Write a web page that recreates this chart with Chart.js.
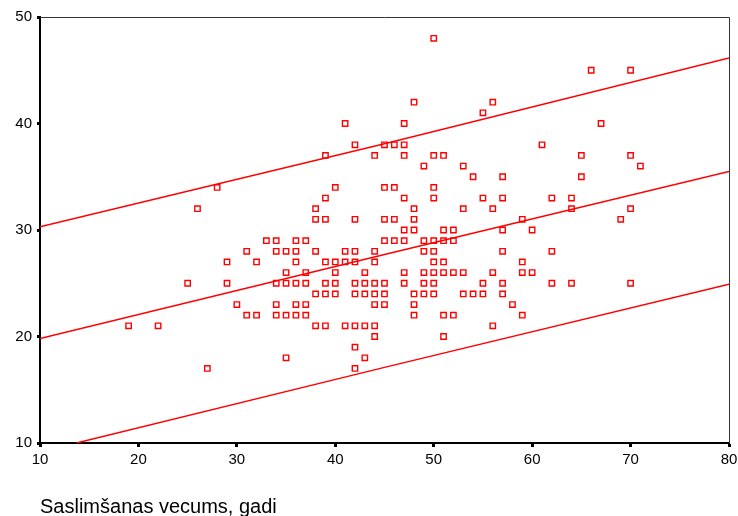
<!DOCTYPE html>
<html lang="lv">
<head>
    <meta charset="UTF-8">
    <title>Saslimšanas vecums</title>
    <script src="https://cdn.jsdelivr.net/npm/chart.js@4.4.1/dist/chart.umd.min.js"></script>
    <style>
        * { margin: 0; padding: 0; }
        body { background: #fff; }
        #wrap { width: 738px; height: 516px; }
    </style>
</head>
<body>
    <div id="wrap"><canvas id="chart" width="738" height="516"></canvas></div>

    <script>
        // ages (x) and the values seen in each column
        const ageCols = [19, 22, 25, 26, 27, 28, 29, 30, 31, 32, 33, 34, 35, 36, 37, 38, 39, 40,
                         41, 42, 43, 44, 45, 46, 47, 48, 49, 50, 51, 52, 53, 54, 55, 56, 57, 58,
                         59, 60, 61, 62, 64, 65, 66, 67, 69, 70, 71];
        const valsByCol = [
            [21], [21], [25], [32], [17], [34], [27, 25], [23], [28, 22], [27, 22], [29],
            [29, 28, 25, 23, 22],
            [28, 26, 25, 22, 18],
            [29, 28, 27, 25, 23, 22],
            [29, 26, 25, 23, 22],
            [32, 31, 28, 24, 21],
            [37, 33, 31, 27, 25, 24, 21],
            [34, 27, 26, 25, 24],
            [40, 28, 27, 21],
            [38, 31, 28, 27, 25, 24, 21, 19, 17],
            [26, 25, 24, 21, 18],
            [37, 28, 27, 25, 24, 23, 21, 20],
            [38, 34, 31, 29, 25, 24, 23],
            [38, 34, 31, 29],
            [40, 38, 37, 33, 30, 29, 26, 25],
            [42, 32, 31, 30, 24, 23, 22],
            [36, 29, 28, 26, 25, 24],
            [48, 37, 34, 33, 29, 28, 27, 26, 25, 24],
            [37, 30, 29, 27, 26, 22, 20],
            [30, 29, 26, 22],
            [36, 32, 26, 24],
            [35, 24],
            [41, 33, 25, 24],
            [42, 32, 26, 21],
            [35, 33, 30, 28, 25, 24],
            [23],
            [31, 27, 26, 22],
            [30, 26],
            [38],
            [33, 28, 25],
            [33, 32, 25],
            [37, 35],
            [45],
            [40],
            [31],
            [45, 37, 32, 25],
            [36]
        ];

        // fitted line and bands
        const lineX = [10, 45, 80];
        const fitY = [19.8, 27.7, 35.5];
        const upperY = [30.3, 38.1, 46.15];
        const lowerX = [13.7, 45, 80];
        const lowerY = [10, 17.1, 24.9];

        const xTicks = [10, 20, 30, 40, 50, 60, 70, 80];
        const yTicks = [10, 20, 30, 40, 50];
        const xTitle = 'Saslimšanas vecums, gadi';

        const points = [];
        ageCols.forEach((a, i) => valsByCol[i].forEach(v => points.push({ x: a, y: v })));

        const toXY = (xs, ys) => xs.map((x, i) => ({ x: x, y: ys[i] }));

        const RED = '#ff0000';
        const FONT = 'Liberation Sans, Arial, sans-serif';

        function lineSet(data) {
            return {
                type: 'line',
                data: data,
                borderColor: RED,
                borderWidth: 1.5,
                pointRadius: 0,
                fill: false,
                tension: 0
            };
        }

        // thin frame on top and right side
        const framePlugin = {
            id: 'frame',
            afterDraw(chart) {
                const { ctx, chartArea: a } = chart;
                ctx.save();
                ctx.strokeStyle = '#333';
                ctx.lineWidth = 1;
                ctx.beginPath();
                ctx.moveTo(a.left, a.top + 0.5);
                ctx.lineTo(a.right + 0.5, a.top + 0.5);
                ctx.lineTo(a.right + 0.5, a.bottom);
                ctx.stroke();
                ctx.restore();
            }
        };

        new Chart(document.getElementById('chart'), {
            type: 'scatter',
            data: {
                datasets: [
                    {
                        data: points,
                        pointStyle: 'rect',
                        pointRadius: 3.8,
                        pointBorderWidth: 1.4,
                        pointBorderColor: RED,
                        pointBackgroundColor: 'rgba(255,255,255,0)',
                        borderColor: RED,
                        showLine: false
                    },
                    lineSet(toXY(lineX, fitY)),
                    lineSet(toXY(lineX, upperY)),
                    lineSet(toXY(lowerX, lowerY))
                ]
            },
            options: {
                responsive: false,
                animation: false,
                layout: { padding: { top: 17, right: 9, left: 0, bottom: 0 } },
                plugins: {
                    legend: { display: false },
                    tooltip: { enabled: false }
                },
                scales: {
                    x: {
                        type: 'linear',
                        min: 10,
                        max: 80,
                        afterBuildTicks(s) { s.ticks = xTicks.map(v => ({ value: v })); },
                        afterFit(s) {
                            s.height = 73;
                            s.paddingLeft = 0;
                            s.paddingRight = 0;
                        },
                        ticks: { color: '#000', font: { family: FONT, size: 15 }, padding: 4, maxRotation: 0 },
                        grid: { drawOnChartArea: false, drawTicks: true, tickLength: 4, tickWidth: 3, tickColor: '#000' },
                        border: { color: '#000', width: 2 },
                        title: {
                            display: true,
                            text: xTitle,
                            align: 'start',
                            color: '#000',
                            font: { family: FONT, size: 20 },
                            padding: { top: 0, bottom: -3 }
                        }
                    },
                    y: {
                        min: 10,
                        max: 50,
                        afterBuildTicks(s) { s.ticks = yTicks.map(v => ({ value: v })); },
                        afterFit(s) {
                            s.width = 40;
                            s.paddingTop = 0;
                            s.paddingBottom = 0;
                        },
                        ticks: { color: '#000', font: { family: FONT, size: 15 }, padding: 5 },
                        grid: { drawOnChartArea: false, drawTicks: true, tickLength: 3, tickWidth: 3, tickColor: '#000' },
                        border: { color: '#000', width: 2 }
                    }
                }
            },
            plugins: [framePlugin]
        });
    </script>
</body>
</html>
